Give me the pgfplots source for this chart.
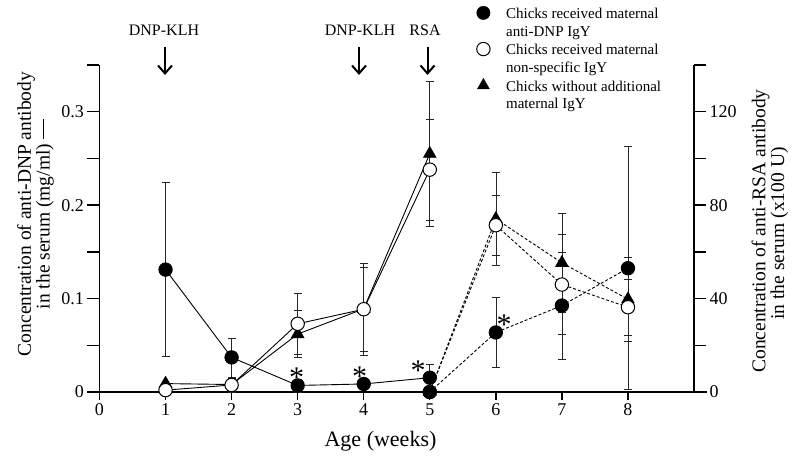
\documentclass[border=0pt]{standalone}
\usepackage{fontspec}
\setmainfont{Liberation Serif}
\usepackage{pgfplots}
\pgfplotsset{compat=1.18}
\usetikzlibrary{arrows.meta}

\newcommand{\dashl}{\leaders\hbox to 2.6pt{\hss\rule[0.3em]{1.6pt}{0.7pt}\hss}\hskip 23pt}

\pgfplotsset{
  base/.style={
    scale only axis, width=594.5pt, height=327pt,
    xmin=0, xmax=9,
    at={(0pt,0pt)}, anchor=south west, clip=false,
    /pgf/number format/assume math mode=true,
    tick label style={font=\fontsize{18}{20}\selectfont},
    axis line style={-, line width=1.4pt},
    tick style={line width=1.4pt, black},
    tick align=outside,
  },
  filled/.style={black, line width=0.9pt, mark=*, mark size=6.7pt, mark options={solid, fill=black}},
  open/.style={black, line width=0.9pt, mark=*, mark size=6.7pt, mark options={solid, fill=white, line width=1pt}},
  tri/.style={black, line width=0.9pt, mark=triangle*, mark size=7pt, mark options={solid, fill=black}},
  eb/.style={error bars/.cd, y dir=both, y explicit,
    error bar style={line width=0.6pt, black!85, solid},
    error mark options={rotate=90, line width=0.6pt, black!85, mark size=4pt, solid}},
  dsh/.style={dash pattern=on 3pt off 2pt},
}

\begin{document}
\begin{tikzpicture}
\path[use as bounding box] (-99.5pt,-66pt) rectangle (695.5pt,392pt);

% x axis
\begin{axis}[base, ymin=0, ymax=0.35, axis y line=none, axis x line*=bottom,
  xtick={0,...,8}, major tick length=8pt]
\end{axis}
\draw[line width=1.4pt] (-12.5pt,0pt) -- (607pt,0pt);

% left axis (anti-DNP)
\begin{axis}[base, ymin=0, ymax=0.35, axis x line=none, axis y line*=left,
  ytick={0,0.1,0.2,0.3}, minor ytick={0.05,0.15,0.25,0.35},
  major tick length=12pt, minor tick length=12pt,
  yticklabel style={/pgf/number format/fixed}]
\addplot[tri, eb] coordinates {
 (1,0.009) +- (0,0)
 (2,0.008) +- (0,0.007)
 (3,0.062) +- (0,0.025)
 (4,0.089) +- (0,0.045)
 (5,0.255) +- (0,0.078)
};
\addplot[open, eb] coordinates {
 (1,0.002) +- (0,0)
 (2,0.0075) +- (0,0.008)
 (3,0.073) +- (0,0.033)
 (4,0.0886) +- (0,0.049)
 (5,0.238) +- (0,0.054)
};
\addplot[filled, eb] coordinates {
 (1,0.131) +- (0,0.093)
 (2,0.037) +- (0,0.021)
 (3,0.007) +- (0,0.007)
 (4,0.0086) +- (0,0.005)
 (5,0.0153) +- (0,0.014)
};
\end{axis}

% right axis (anti-RSA)
\begin{axis}[base, ymin=0, ymax=140, axis x line=none, axis y line*=right,
  ytick={0,40,80,120}, minor ytick={20,60,100,140},
  major tick length=12pt, minor tick length=12pt]
\addplot[tri, dsh, eb] coordinates {
 (5,0) +- (0,0)
 (6,74.1) +- (0,20)
 (7,55.3) +- (0,21)
 (8,39.7) +- (0,18)
};
\addplot[open, dsh, eb] coordinates {
 (5,0) +- (0,0)
 (6,71.4) +- (0,13)
 (7,46) +- (0,21.5)
 (8,36.3) +- (0,12)
};
\addplot[filled, dsh, eb] coordinates {
 (5,0) +- (0,0)
 (6,25.5) +- (0,15)
 (7,37) +- (0,23)
 (8,53) +- (0,52)
};
\end{axis}

% legend
\begin{axis}[base, ymin=0, ymax=1, hide axis,
  legend style={at={(377pt,386pt)}, anchor=north west, draw=none, fill=none,
    font=\fontsize{15}{17}\selectfont, inner sep=0pt, row sep=0pt, column sep=14pt,
    nodes={inner ysep=0pt, text height=11pt, text depth=6.3pt}},
  legend cell align=left,
  legend image code/.code={\draw[#1] plot coordinates {(0pt,3.5pt)};}]
\addlegendimage{only marks, mark=*, mark size=6.7pt, fill=black}
\addlegendentry{Chicks received maternal}
\addlegendimage{empty legend}
\addlegendentry{anti-DNP IgY}
\addlegendimage{only marks, mark=*, mark size=6.7pt, fill=white, line width=1pt}
\addlegendentry{Chicks received maternal}
\addlegendimage{empty legend}
\addlegendentry{non-specific IgY}
\addlegendimage{only marks, mark=triangle*, mark size=7pt, fill=black}
\addlegendentry{Chicks without additional}
\addlegendimage{empty legend}
\addlegendentry{maternal IgY}
\end{axis}

% annotations
\node[font=\fontsize{16}{18}\selectfont] at (64.5pt,362pt) {DNP-KLH};
\node[font=\fontsize{16}{18}\selectfont] at (260.5pt,362pt) {DNP-KLH};
\node[font=\fontsize{16}{18}\selectfont] at (325.5pt,362pt) {RSA};
\foreach \x in {65.5,259.5,328}
  \draw[line width=2pt, -{Straight Barb[length=8pt,width=14pt,line width=2pt]}] (\x pt,345pt) -- (\x pt,317pt);

\node[font=\fontsize{30}{30}\selectfont] at (197.2pt,14pt) {*};
\node[font=\fontsize{30}{30}\selectfont] at (260pt,15.5pt) {*};
\node[font=\fontsize{30}{30}\selectfont] at (318.5pt,21.5pt) {*};
\node[font=\fontsize{30}{30}\selectfont] at (404.5pt,67.5pt) {*};

\node[font=\fontsize{22}{24}\selectfont] at (281pt,-49pt) {Age (weeks)};
\node[rotate=90, align=center, font=\fontsize{19.5}{17}\selectfont] at (-64pt,178pt)
  {Concentration of anti-DNP antibody\\in the serum (mg/ml) \rule[0.3em]{20pt}{0.8pt}};
\node[rotate=90, align=center, font=\fontsize{19.5}{17}\selectfont] at (670.5pt,161pt)
  {Concentration of anti-RSA antibody\\in the serum (x100 U) \dashl};
\end{tikzpicture}
\end{document}
